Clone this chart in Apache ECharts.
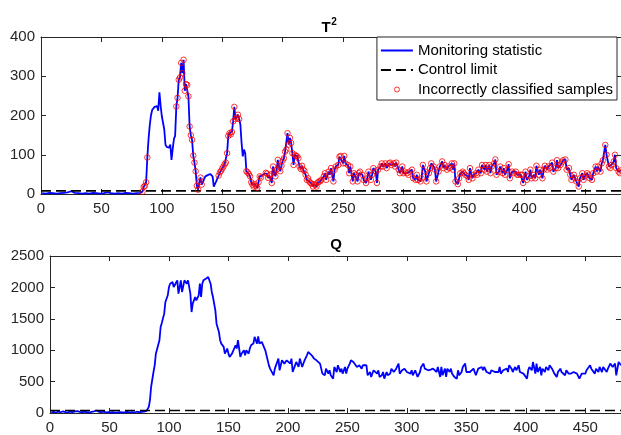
<!DOCTYPE html>
<html>
<head>
<meta charset="utf-8">
<script src="https://cdn.jsdelivr.net/npm/echarts@6/dist/echarts.min.js"></script>
<style>
  html, body { margin: 0; padding: 0; background: #fff; }
  #chart { width: 621px; height: 435px; }
</style>
</head>
<body>
<div id="chart"></div>
<script>
// T2 monitoring statistic, [sample, value]
const t2Data = [
  [1,2],[4,1],[7,3],[10,2],[13,1],[16,2],[19,3],[22,4],[25,7],[28,3],[31,2],[34,1],[37,2],[40,1],[43,3],[46,2],[49,1],
  [52,2],[55,4],[58,2],[61,1],[64,2],[67,1],[70,3],[73,2],[76,1],[79,2],[82,3],[84,6],
  [85,18],[86,21],[87,30],[88,93],[89,140],[90,175],[91,200],[92,214],[93,218],[94,222],[95,219],[96,224],[97,212],
  [98,259],[99,225],[100,198],[101,200],[102,165],[103,126],[104,120],[105,124],[106,118],[107,126],[108,87],[109,115],
  [110,140],[111,148],[112,223],[113,245],[114,291],[115,297],[116,334],[117,308],[118,342],[119,263],[120,280],
  [121,278],[122,249],[123,172],[124,150],[125,138],[126,98],[127,80],[128,58],[129,21],[130,11],[131,30],[132,42],
  [133,24],[134,28],[135,38],[136,45],[137,49],[138,48],[139,50],[140,51],[141,49],[142,45],[143,19],[144,26],[145,32],
  [146,40],[147,47],[148,55],[149,59],[150,65],[151,70],[152,76],[153,80],[154,104],[155,148],[156,155],[157,152],
  [158,158],[159,185],[160,222],[161,191],[162,195],[163,202],[164,191],[165,177],[166,130],[167,96],[168,113],[169,104],
  [170,58],[171,55],[172,51],[173,45],[174,30],[175,24],[176,19],[177,25],[178,20],[179,16],[180,30],[181,45],[182,42],
  [183,47],[184,49],[185,52],[186,54],[187,52],[188,41],[189,47],[190,50],[191,28],[192,70],[193,55],[194,45],[195,62],
  [196,87],[197,70],[198,58],[199,72],[200,85],[201,91],[202,108],[203,113],[204,155],[205,126],[206,143],[207,130],
  [208,104],[209,74],[210,100],[211,97],[212,96],[213,91],[214,70],[215,64],[216,72],[217,62],[218,59],[219,49],
  [220,36],[221,40],[222,32],[223,28],[224,26],[225,19],[226,25],[227,23],[228,19],[229,29],[230,32],
  [231,32],[232,36],[234,45],[235,53],[236,36],[238,57],[239,49],[240,66],[242,32],[243,62],[244,70],[246,74],[247,95],
  [248,97],[250,78],[251,97],[252,78],[254,74],[255,53],[256,70],[258,32],[259,53],[260,49],[262,32],[263,53],[264,57],
  [266,49],[267,36],[269,28],[270,40],[271,57],[273,36],[274,49],[275,66],[277,57],[278,28],[279,62],[281,70],[282,78],
  [283,70],[285,78],[286,66],[288,78],[289,80],[290,74],[292,78],[293,70],[294,80],[296,62],[297,53],[299,70],[300,53],
  [301,57],[303,53],[304,49],[305,57],[307,62],[308,40],[310,36],[311,49],[312,36],[314,32],[315,40],[316,74],[318,57],
  [319,32],[321,53],[322,66],[323,78],[325,70],[326,62],[327,32],[329,57],[330,70],[332,83],[333,66],[334,74],[336,62],
  [337,70],[338,66],
  [340,78],[341,62],[342,78],[343,32],[345,25],[346,40],[347,53],[349,57],[350,53],[351,49],[353,45],[354,36],[355,66],
  [357,40],[358,49],[360,53],[361,49],[362,62],[364,53],[365,74],[367,62],[368,74],[369,57],[371,74],[372,53],[373,70],
  [375,78],[376,88],[377,49],[379,57],[380,70],[382,53],[383,66],[384,49],[386,62],[387,76],[388,40],[390,57],[391,53],
  [393,57],[394,49],[395,49],[397,49],[398,49],[399,28],[401,57],[402,36],[404,45],[405,62],[406,40],[408,49],[409,40],
  [410,72],[412,49],[413,62],[415,40],[416,62],[417,72],[419,62],[420,70],[421,66],[423,80],[424,57],[426,66],[427,86],
  [428,66],[430,74],[431,80],[432,86],[434,88],[435,62],[437,66],[438,49],[439,36],[441,49],[442,40],[443,32],[445,19],
  [446,40],[448,53],[449,36],[450,45],[452,53],[453,49],[454,40],[456,36],[457,53],[459,70],[460,57],[461,70],[463,57],
  [464,78],[465,86],[467,125],[468,100],[470,70],[471,66],[472,74],[474,83],[475,100],[476,66],[478,57],[479,53],[480,60]
];

// Q statistic, [sample, value]
const qData = [
  [1,10],[3,18],[5,8],[7,22],[9,12],[11,25],[13,15],[15,10],[17,20],[19,14],[21,27],[23,30],[25,18],[27,12],[29,20],
  [31,15],[33,8],[35,18],[37,25],[39,40],[41,20],[43,15],[45,22],[47,10],[49,15],[51,8],[53,12],[55,6],[57,10],[59,14],
  [61,8],[63,12],[65,18],[67,10],[69,15],[71,8],[73,20],[75,12],[77,18],[79,22],[81,30],
  [82,60],[83,95],[84,202],[85,414],[87,653],[88,759],[89,945],[90,960],[92,1157],[93,1369],[94,1432],[96,1582],
  [97,1767],[99,1874],[100,2006],[101,2059],[103,2085],[104,2006],[105,2032],[107,2112],[108,1900],[110,2112],
  [111,1927],[113,2112],[114,2112],[115,2059],[116,2112],[118,1900],[119,1608],[120,1741],[122,1847],[123,1794],
  [125,1874],[126,2059],[127,1847],[128,2059],[129,2112],[131,2138],[133,2165],[134,2175],[135,2059],[136,1927],
  [137,1847],[139,1635],[140,1423],[142,1291],[143,1159],[144,1105],[146,1053],[147,945],[149,1026],[150,945],
  [151,893],[153,945],[154,919],[156,1079],[157,1026],[158,1159],[160,893],[161,945],[163,998],[164,919],[165,998],
  [167,945],[168,1026],[169,1079],[171,1105],[172,1212],[174,1105],[175,1221],[176,1105],[178,1132],[179,1105],
  [181,998],[182,919],[184,759],[185,706],[186,680],[188,600],[189,706],[190,733],[192,866],[193,680],[195,839],
  [196,866],[197,786],[199,839],[200,866],[202,786],[203,866],[204,653],[206,759],[207,813],[209,733],[210,866],
  [212,733],[213,759],[214,839],[216,919],[217,972],[218,998],[220,919],[221,945],[222,866],[224,839],[225,866],[227,786],
  [228,706],[229,627],[230,653],[231,600],[232,706],[234,627],[235,680],[236,600],[238,547],[239,733],[241,653],
  [242,760],[244,653],[245,706],[246,627],[248,733],[249,627],[250,706],[252,786],[253,839],[255,812],[256,786],
  [258,733],[259,733],[260,760],[262,706],[263,760],[264,733],[266,760],[267,600],[269,653],[270,574],[272,680],
  [273,653],[275,627],[276,680],[277,574],[279,600],[280,653],[281,547],[283,653],[284,600],[286,627],[287,706],
  [289,653],[290,627],[291,706],[293,786],[294,627],[296,680],[297,653],[298,706],[300,653],[301,680],[303,627],
  [304,680],[305,600],[307,680],[308,653],[309,574],[311,653],[312,733],[314,786],[315,706],[316,733],[318,680],
  [319,706],[320,690],[322,706],[323,680],[325,653],[326,733],[328,574],[329,733],[330,600],[332,706],[333,574],
  [334,706],[336,653],[337,706],[338,627],
  [339,653],[340,574],[342,547],[343,680],[344,600],[346,653],[347,733],[349,786],[350,653],[351,680],[353,653],
  [354,680],[356,706],[357,733],[358,600],[360,706],[361,680],[363,733],[364,680],[365,733],[367,653],[368,653],
  [370,627],[371,680],[372,653],[374,653],[375,680],[377,653],[378,733],[379,627],[381,680],[382,653],[384,706],
  [385,653],[386,760],[388,706],[389,653],[391,733],[392,680],[394,760],[395,653],[396,680],[398,627],[399,600],
  [401,547],[402,680],[403,733],[405,680],[406,812],[408,627],[409,786],[410,653],[412,733],[413,600],[414,706],
  [416,653],[417,733],[419,680],[420,760],[422,706],[423,680],[424,627],[426,574],[427,653],[429,706],[430,653],
  [431,680],[433,600],[434,680],[436,627],[437,653],[438,627],[440,653],[441,627],[443,627],[444,600],[445,547],
  [447,627],[448,653],[450,627],[451,680],[452,653],[454,760],[455,706],[456,680],[458,627],[459,706],[461,653],
  [462,733],[464,653],[465,733],[466,760],[468,653],[469,706],[471,786],[472,812],[473,733],[475,786],[476,600],
  [478,812],[479,786],[480,760]
];

// sample ranges whose T2 points carry a red circle
const wrongRanges = [[84, 88], [112, 133], [147, 164], [170, 182], [186, 480]];

const t2Limit = 8;
const qLimit = 40;
const sampleRange = [0, 480];
const t2Ticks = { min: 0, max: 400, step: 100 };
const qTicks = { min: 0, max: 2500, step: 500 };

const FONT = '"Liberation Sans", Arial, Helvetica, sans-serif';
const AXIS_COLOR = '#262626';
const HIDDEN = { color: 'rgba(0,0,0,0)', borderColor: 'rgba(0,0,0,0)', borderWidth: 0 };

const wrongPoints = t2Data.filter(p => wrongRanges.some(r => p[0] >= r[0] && p[0] <= r[1]));

function xAx(grid, pos) {
  return {
    type: 'value', gridIndex: grid, position: pos,
    min: sampleRange[0], max: sampleRange[1], interval: 50,
    axisLine: { onZero: false, lineStyle: { color: AXIS_COLOR, width: 1 } },
    axisTick: { inside: true, length: 5, lineStyle: { color: AXIS_COLOR } },
    axisLabel: {
      show: pos === 'bottom', showMaxLabel: false, margin: 7,
      color: AXIS_COLOR, fontSize: 15, fontFamily: FONT,
      formatter: v => String(v)
    },
    splitLine: { show: false }
  };
}

function yAx(grid, pos, ticks) {
  return {
    type: 'value', gridIndex: grid, position: pos,
    min: ticks.min, max: ticks.max, interval: ticks.step,
    axisLine: { show: true, onZero: false, lineStyle: { color: AXIS_COLOR, width: 1 } },
    axisTick: { show: true, inside: true, length: 5, lineStyle: { color: AXIS_COLOR } },
    axisLabel: {
      show: pos === 'left', margin: 6,
      color: AXIS_COLOR, fontSize: 15, fontFamily: FONT,
      formatter: v => String(v)
    },
    splitLine: { show: false }
  };
}

const chart = echarts.init(document.getElementById('chart'), null, { renderer: 'canvas' });

const option = {
  animation: false,
  backgroundColor: '#ffffff',
  grid: [
    { left: 41, top: 37, width: 580, height: 157 },
    { left: 50, top: 256, width: 571, height: 157 }
  ],
  xAxis: [xAx(0, 'bottom'), xAx(0, 'top'), xAx(1, 'bottom'), xAx(1, 'top')],
  yAxis: [yAx(0, 'left', t2Ticks), yAx(0, 'right', t2Ticks), yAx(1, 'left', qTicks), yAx(1, 'right', qTicks)],
  legend: {
    orient: 'vertical',
    right: 4, top: 37,
    padding: [6, 4, 3, 3],
    itemWidth: 32, itemHeight: 14, itemGap: 4.5,
    backgroundColor: '#ffffff',
    borderColor: AXIS_COLOR, borderWidth: 1,
    textStyle: { fontSize: 15, fontFamily: FONT, color: '#000' },
    data: [
      { name: 'Monitoring statistic', itemStyle: HIDDEN },
      { name: 'Control limit', itemStyle: HIDDEN },
      {
        name: 'Incorrectly classified samples',
        // small ring centred in a 32x14 box
        icon: 'path://M0,0M32,14M13.5,7A2.5,2.5,0,1,1,18.5,7A2.5,2.5,0,1,1,13.5,7Z',
        itemStyle: { color: 'rgba(0,0,0,0)', borderColor: '#ff0000', borderWidth: 1 }
      }
    ]
  },
  graphic: [
    { type: 'text', x: 326, y: 28, style: { text: 'T', font: 'bold 15px ' + FONT, fill: '#000', align: 'center', verticalAlign: 'middle' } },
    { type: 'text', x: 334, y: 22, style: { text: '2', font: 'bold 10px ' + FONT, fill: '#000', align: 'center', verticalAlign: 'middle' } },
    { type: 'text', x: 336, y: 245, style: { text: 'Q', font: 'bold 15px ' + FONT, fill: '#000', align: 'center', verticalAlign: 'middle' } }
  ],
  series: [
    {
      name: 'Monitoring statistic', type: 'line', xAxisIndex: 0, yAxisIndex: 0,
      data: t2Data, symbol: 'none', lineStyle: { color: '#0000ff', width: 1.8 }, itemStyle: { color: '#0000ff' }, z: 2
    },
    {
      name: 'Control limit', type: 'line', xAxisIndex: 0, yAxisIndex: 0,
      data: [[sampleRange[0], t2Limit], [sampleRange[1], t2Limit]], symbol: 'none',
      lineStyle: { color: '#000', width: 1.6, type: [10, 5] }, itemStyle: { color: '#000' }, z: 3
    },
    {
      name: 'Incorrectly classified samples', type: 'scatter', xAxisIndex: 0, yAxisIndex: 0,
      data: wrongPoints, symbol: 'circle', symbolSize: 5.5,
      itemStyle: { color: 'rgba(0,0,0,0)', borderColor: '#ff0000', borderWidth: 1 }, z: 4
    },
    {
      name: 'Q statistic', type: 'line', xAxisIndex: 2, yAxisIndex: 2,
      data: qData, symbol: 'none', lineStyle: { color: '#0000ff', width: 1.8 }, z: 2
    },
    {
      name: 'Q limit', type: 'line', xAxisIndex: 2, yAxisIndex: 2,
      data: [[sampleRange[0], qLimit], [sampleRange[1], qLimit]], symbol: 'none',
      lineStyle: { color: '#000', width: 1.6, type: [10, 5] }, z: 3
    }
  ]
};

chart.setOption(option);
</script>
</body>
</html>
